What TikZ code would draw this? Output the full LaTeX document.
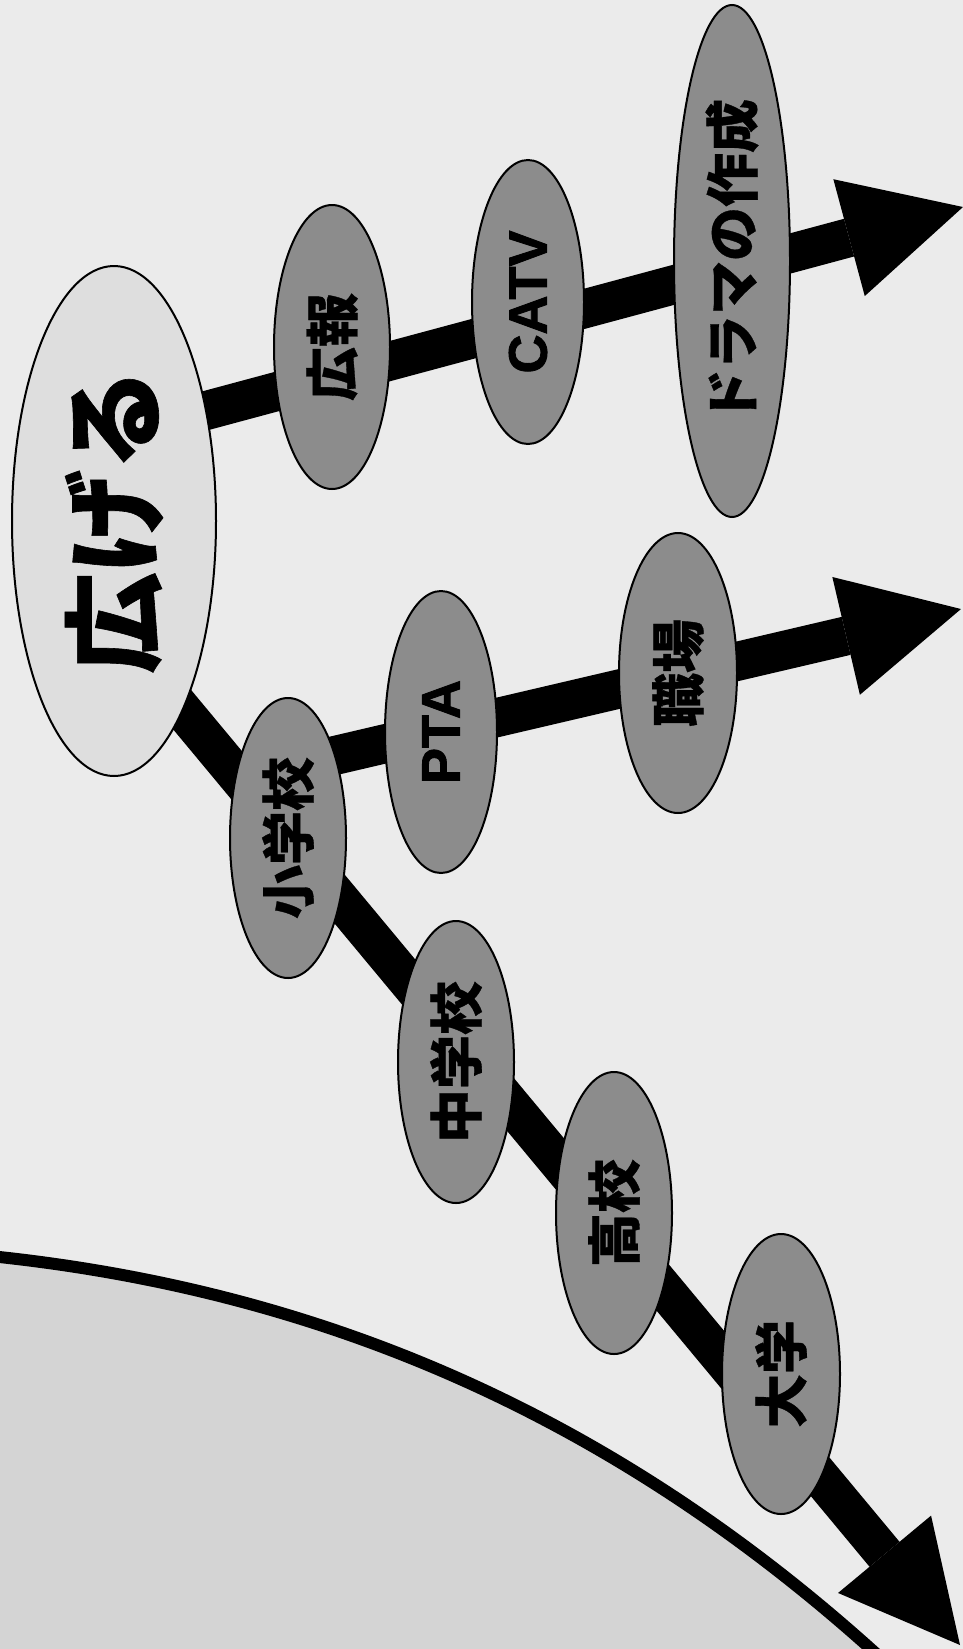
\documentclass[tikz,border=0pt]{standalone}
\usepackage{fontspec}
\newfontfamily\jp{Noto Sans CJK JP}[BoldFeatures={FakeBold=0.6}]
\newfontfamily\lat{Liberation Sans}[BoldFeatures={FakeBold=1.6}]
\usetikzlibrary{shapes.geometric,arrows.meta}
\definecolor{bgc}{gray}{0.92}
\definecolor{lowc}{gray}{0.83}
\definecolor{bigc}{gray}{0.87}
\definecolor{bubc}{gray}{0.55}
\pgfdeclarelayer{bg}
\pgfsetlayers{bg,main}
\begin{document}
\begin{tikzpicture}[x=1pt,y=-1pt,
  bub/.style={ellipse, draw=black, line width=2pt, fill=bubc, inner sep=0pt, rotate=90,
    minimum width=282pt, minimum height=116pt,
    font=\jp\bfseries\fontsize{54}{60}\selectfont},
  latbub/.style={bub, font=\lat\bfseries\fontsize{54}{60}\selectfont},
  bigbub/.style={ellipse, draw=black, line width=2pt, fill=bigc, inner sep=0pt, rotate=90,
    minimum width=510pt, minimum height=204pt,
    font=\jp\bfseries\fontsize{102}{110}\selectfont},
  arr/.style={line width=39pt, -{Triangle[length=118pt,width=121pt,line width=0pt]}},
  edge/.style={line width=12pt}]
\useasboundingbox (0,0) rectangle (963,1649);
\clip (0,0) rectangle (963,1649);
% nodes
\node[bigbub] (g) at (114,521) {広げる};
\node[bub, minimum width=284pt] (kh) at (332,347) {広報};
\node[latbub, minimum width=284pt, minimum height=112pt] (ca) at (528,302) {CATV};
\node[bub, minimum width=512pt] (dr) at (732,261) {ドラマの作成};
\node[bub, minimum width=280pt] (sg) at (288,838) {小学校};
\node[latbub, minimum height=112pt] (pta) at (441,732) {PTA};
\node[bub, minimum width=280pt, minimum height=118pt] (sk) at (678,673) {職場};
\node[bub] (cg) at (456,1062) {中学校};
\node[bub] (kk) at (614,1213) {高校};
\node[bub, minimum width=280pt, minimum height=118pt] (dg) at (781,1374) {大学};
\coordinate (t1) at (963,207);
\coordinate (t2) at (961,609);
\coordinate (t3) at (960,1645);
\coordinate (c0) at (-20,1255);
\coordinate (c1) at (882,1659);
\begin{pgfonlayer}{bg}
  \fill[bgc] (0,0) rectangle (963,1649);
  \fill[lowc] (c0) .. controls (330,1289) and (623,1423) .. (c1) -- (-20,1670) -- cycle;
  \draw[edge] (c0) .. controls (330,1289) and (623,1423) .. (c1);
  \draw[arr, shorten <=-40pt] (g.-40) -- (t1);
  \draw[arr, shorten <=-30pt] (sg.-30) -- (t2);
  \draw[arr, shorten <=-40pt] (g.200) -- (t3);
\end{pgfonlayer}
\end{tikzpicture}
\end{document}
